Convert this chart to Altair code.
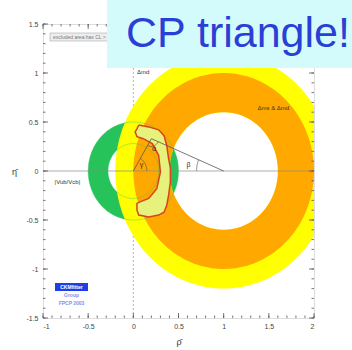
import altair as alt
import numpy as np
import pandas as pd

# ---- constraint bands (centre x, centre y, inner radius, outer radius) ----
ring_names = ["vub_green", "dm_yellow", "dm_orange"]
ring_cx = [0.0, 1.0, 1.0]
ring_cy = [0.0, 0.0, 0.0]
ring_rin = [0.28, 0.60, 0.60]
ring_rout = [0.50, 1.20, 1.00]
ring_colors = ["#25c35a", "#ffff00", "#ffa800"]

# thin outlines of the |Vub/Vcb| band
outline_r = [0.28, 0.50]

# combined-fit region (outer edge, then inner edge back round)
fit_x = [0.06, 0.17, 0.28, 0.34, 0.37, 0.39, 0.41, 0.41, 0.39, 0.37, 0.34, 0.28,
         0.17, 0.06, 0.04, 0.04, 0.06, 0.17, 0.26, 0.30, 0.28, 0.21, 0.11, 0.04,
         0.02, 0.04, 0.06]
fit_y = [0.47, 0.45, 0.42, 0.36, 0.26, 0.13, 0.03, -0.11, -0.25, -0.35, -0.42, -0.45,
         -0.47, -0.45, -0.40, -0.33, -0.32, -0.28, -0.18, -0.01, 0.16, 0.28, 0.33, 0.35,
         0.40, 0.43, 0.47]

# unitarity triangle
tri_x = [0.0, 0.20, 1.0]
tri_y = [0.0, 0.33, 0.0]

# axis ticks
x_major = [-1, -0.5, 0, 0.5, 1, 1.5, 2]
y_major = [-1.5, -1, -0.5, 0, 0.5, 1, 1.5]
x_minor = [round(v, 1) for v in np.arange(-1.0, 2.01, 0.1)]
y_minor = [round(v, 1) for v in np.arange(-1.5, 1.51, 0.1)]

# text annotations
label_text = ["Δmd", "Δms & Δmd", "|Vub/Vcb|"]
label_x = [0.11, 1.55, -0.73]
label_y = [1.01, 0.64, -0.115]

W, H = 271, 294
xs = alt.Scale(domain=[-1, 2], nice=False, zero=False)
ys = alt.Scale(domain=[-1.5, 1.5], nice=False, zero=False)
hyphen_labels = "replace(format(datum.value, '~g'), '\u2212', '-')"
x_axis = alt.Axis(values=x_major, ticks=False, domain=False, grid=False, labelFontSize=7,
                  labelColor="#444444", labelPadding=4, titleFontSize=9, titleColor="#333333",
                  titleFontWeight="normal", titlePadding=8, labelExpr=hyphen_labels)
y_axis = alt.Axis(values=y_major, ticks=False, domain=False, grid=False, labelFontSize=7,
                  labelColor="#444444", labelPadding=5, titleFontSize=9, titleAngle=0,
                  titleColor="#333333", titleFontWeight="normal", titlePadding=12,
                  titleBaseline="middle", labelExpr=hyphen_labels)


def X(field="x"):
    return alt.X(f"{field}:Q", scale=xs, axis=x_axis, title="ρ̄")


def Y(field="y"):
    return alt.Y(f"{field}:Q", scale=ys, axis=y_axis, title="η̄")


def ring_frame(cx, cy, rin, rout, n=240):
    t = np.linspace(0, 2 * np.pi, n + 1)
    ox, oy = cx + rout * np.cos(t), cy + rout * np.sin(t)
    ix, iy = cx + rin * np.cos(t[::-1]), cy + rin * np.sin(t[::-1])
    px = np.concatenate([ox, ix])
    py = np.concatenate([oy, iy])
    return pd.DataFrame({"x": px, "y": py, "i": np.arange(len(px))})


def arc_frame(cx, cy, r, a0, a1, n=60):
    t = np.linspace(np.radians(a0), np.radians(a1), n)
    return pd.DataFrame({"x": cx + r * np.cos(t), "y": cy + r * np.sin(t), "i": np.arange(n)})


def poly(df, **mark):
    return alt.Chart(df).mark_line(clip=True, **mark).encode(x=X(), y=Y(), order="i:Q")


layers = []

# dotted vertical zero line sits underneath the bands
layers.append(alt.Chart(pd.DataFrame({"x": [0]})).mark_rule(color="#9a9a9a", strokeWidth=0.7,
                                                            strokeDash=[2, 2]).encode(x=X()))

for k in range(len(ring_names)):
    df = ring_frame(ring_cx[k], ring_cy[k], ring_rin[k], ring_rout[k])
    layers.append(poly(df, fill=ring_colors[k], stroke=ring_colors[k], strokeWidth=0))

layers.append(alt.Chart(pd.DataFrame({"y": [0]})).mark_rule(color="#8a8a8a", strokeWidth=0.7)
              .encode(y=Y()))

for r in outline_r:
    layers.append(poly(arc_frame(0, 0, r, 0, 360, 240), stroke="#3cc060", strokeWidth=0.6,
                       strokeOpacity=0.7))

fit_df = pd.DataFrame({"x": fit_x, "y": fit_y, "i": range(len(fit_x))})
layers.append(poly(fit_df, fill="#e6f27c", stroke="#d8431e", strokeWidth=1.5))

tri_df = pd.DataFrame({"x": tri_x, "y": tri_y, "i": range(3)})
layers.append(poly(tri_df, stroke="#555555", strokeWidth=0.8))
gam = np.degrees(np.arctan2(tri_y[1], tri_x[1]))
bet = np.degrees(np.arctan2(tri_y[1], tri_x[2] - tri_x[1]))
layers.append(poly(arc_frame(0, 0, 0.15, 0, gam), stroke="#555555", strokeWidth=0.7))
layers.append(poly(arc_frame(1, 0, 0.30, 180 - bet, 180), stroke="#555555", strokeWidth=0.7))
layers.append(poly(arc_frame(tri_x[1], tri_y[1], 0.08, 180 + gam, 360 - bet), stroke="#555555",
                   strokeWidth=0.7))

greek = pd.DataFrame({"t": ["γ", "β", "α"], "x": [0.09, 0.61, 0.23], "y": [0.06, 0.065, 0.22]})
layers.append(alt.Chart(greek).mark_text(fontSize=7, color="#333333").encode(
    x=X(), y=Y(), text="t:N"))

lab = pd.DataFrame({"t": label_text, "x": label_x, "y": label_y})
layers.append(alt.Chart(lab).mark_text(fontSize=6, color="#333333").encode(
    x=X(), y=Y(), text="t:N"))


# inward ticks on all four sides
def xticks(vals, ln):
    d = pd.DataFrame({"x": vals})
    b = alt.Chart(d).mark_rule(color="#555555", strokeWidth=0.8).encode(
        x=X(), y=alt.value(H), y2=alt.value(H - ln))
    t = alt.Chart(d).mark_rule(color="#555555", strokeWidth=0.8).encode(
        x=X(), y=alt.value(0), y2=alt.value(ln))
    return [b, t]


def yticks(vals, ln):
    d = pd.DataFrame({"y": vals})
    l = alt.Chart(d).mark_rule(color="#555555", strokeWidth=0.8).encode(
        y=Y(), x=alt.value(0), x2=alt.value(ln))
    r = alt.Chart(d).mark_rule(color="#555555", strokeWidth=0.8).encode(
        y=Y(), x=alt.value(W), x2=alt.value(W - ln))
    return [l, r]


layers += xticks(x_minor, 2.5) + xticks(x_major, 5) + yticks(y_minor, 2.5) + yticks(y_major, 5)

# legend note, top left
layers.append(alt.Chart(pd.DataFrame({"a": [0]})).mark_rect(fill="#eeeeee", stroke="#999999",
                                                            strokeWidth=0.5).encode(
    x=alt.value(7), x2=alt.value(75), y=alt.value(9), y2=alt.value(17)))
layers.append(alt.Chart(pd.DataFrame({"t": ["excluded area has CL > 0.95"]})).mark_text(
    fontSize=5, color="#777777", align="left", baseline="middle").encode(
    x=alt.value(10), y=alt.value(13), text="t:N"))

# logo, bottom left
layers.append(alt.Chart(pd.DataFrame({"a": [0]})).mark_rect(fill="#1f3fe6").encode(
    x=alt.value(12), x2=alt.value(45), y=alt.value(259), y2=alt.value(267)))
logo = pd.DataFrame({"t": ["CKMfitter", "Group", "FPCP 2003"], "py": [263, 271, 279],
                     "c": ["#ffffff", "#8090f0", "#8090f0"]})
layers.append(alt.Chart(logo).mark_text(fontSize=5, fontWeight="bold", baseline="middle").encode(
    x=alt.value(28.5), y=alt.Y("py:Q", scale=None), text="t:N",
    color=alt.Color("c:N", scale=None)))

# title banner
layers.append(alt.Chart(pd.DataFrame({"a": [0]})).mark_rect(fill="#d4fbfc").encode(
    x=alt.value(64), x2=alt.value(309), y=alt.value(-24), y2=alt.value(44)))
layers.append(alt.Chart(pd.DataFrame({"t": ["CP triangle!"]})).mark_text(
    fontSize=43, color="#2a3fd6", font="Liberation Sans", align="center",
    baseline="alphabetic").encode(x=alt.value(195), y=alt.value(23), text="t:N"))

chart = alt.layer(*layers).properties(
    width=W, height=H,
    padding={"left": 43, "top": 24, "right": 38, "bottom": 32},
    autosize=alt.AutoSizeParams(type="none"),
).configure_view(stroke="#555555", strokeWidth=1).configure(background="white")

chart.save("out.html", embed_options={"renderer": "svg", "actions": False})
